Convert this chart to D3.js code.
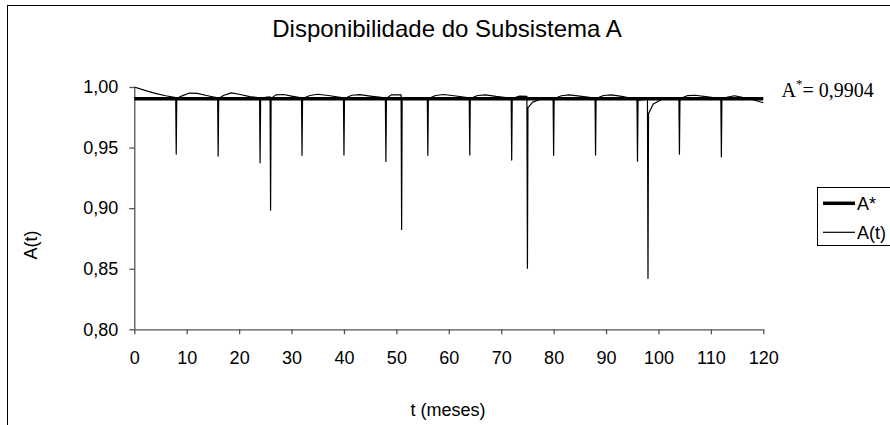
<!DOCTYPE html>
<html>
<head>
<meta charset="utf-8">
<script src="https://cdn.jsdelivr.net/npm/d3@7"></script>
<style>
  body { margin: 0; background: #fff; }
  svg { display: block; }
  text { font-family: "Liberation Sans", Arial, sans-serif; fill: #000; }
</style>
</head>
<body>
<div id="chart"></div>
<script>
(function () {
	// data
	var title = 'Disponibilidade do Subsistema A';
	var xLabel = 't (meses)';
	var yLabel = 'A(t)';
	var aStar = 0.9904;
	var xTicks = [0, 10, 20, 30, 40, 50, 60, 70, 80, 90, 100, 110, 120];
	var yTicks = [0.80, 0.85, 0.90, 0.95, 1.00];
	var legendNames = ['A*', 'A(t)'];

	// A(t): months and availability values
	var tMonths = [
		0, 2, 4, 6, 7.9,
		8, 8.1, 9, 10.5, 12, 14, 15.9,
		16, 16.1, 17, 18.5, 20, 22, 23.9,
		24, 24.1, 25, 25.9, 26, 26.1, 27, 28.5, 30, 31.9,
		32, 32.1, 33.5, 35, 37, 39.9,
		40, 40.1, 41.5, 43, 45, 47.9,
		48, 48.1, 49, 50.9, 51, 51.1, 52.5, 55.9,
		56, 56.1, 57.5, 59, 61, 63.9,
		64, 64.1, 65.5, 67, 69, 71.9,
		72, 72.1, 73.5, 74.9, 75, 75.1, 76, 77.5, 79.9,
		80, 80.1, 81.5, 83, 85, 87.9,
		88, 88.1, 89.5, 91, 93, 95.5, 95.9,
		96, 96.1, 97, 97.9, 98, 98.1, 99, 100.5, 102, 103.9,
		104, 104.1, 105.5, 107, 109, 111.9,
		112, 112.1, 113, 114.5, 116, 118, 120
	];
	var availability = [
		1.0000, 0.9972, 0.9948, 0.9928, 0.9912,
		0.9446, 0.9905, 0.9925, 0.9950, 0.9947, 0.9928, 0.9910,
		0.9430, 0.9905, 0.9930, 0.9952, 0.9940, 0.9920, 0.9910,
		0.9374, 0.9905, 0.9915, 0.9918, 0.8983, 0.9905, 0.9935, 0.9938, 0.9925, 0.9910,
		0.9436, 0.9905, 0.9930, 0.9940, 0.9930, 0.9910,
		0.9438, 0.9905, 0.9932, 0.9937, 0.9925, 0.9910,
		0.9386, 0.9905, 0.9935, 0.9935, 0.8824, 0.9905, 0.9912, 0.9908,
		0.9436, 0.9905, 0.9930, 0.9938, 0.9928, 0.9910,
		0.9438, 0.9905, 0.9930, 0.9935, 0.9922, 0.9908,
		0.9397, 0.9905, 0.9925, 0.9922, 0.8504, 0.9830, 0.9875, 0.9900, 0.9905,
		0.9436, 0.9905, 0.9928, 0.9935, 0.9925, 0.9908,
		0.9438, 0.9905, 0.9930, 0.9935, 0.9922, 0.9900, 0.9895,
		0.9388, 0.9890, 0.9895, 0.9900, 0.8421, 0.9780, 0.9860, 0.9895, 0.9905, 0.9905,
		0.9446, 0.9905, 0.9928, 0.9932, 0.9920, 0.9905,
		0.9424, 0.9900, 0.9915, 0.9928, 0.9915, 0.9895, 0.9870
	];

	var width = 890;
	var height = 425;
	var plot = { left: 134.3, right: 763.3, top: 87, bottom: 329.3 };

	var svg = d3.select('#chart').append('svg')
		.attr('width', width).attr('height', height);

	// outer chart border (only top and left visible)
	svg.append('rect')
		.attr('x', 7.5).attr('y', 5.5)
		.attr('width', width + 20).attr('height', height + 20)
		.attr('fill', 'none').attr('stroke', '#000').attr('stroke-width', 1);

	var x = d3.scaleLinear().domain([0, 120]).range([plot.left, plot.right]);
	var y = d3.scaleLinear().domain([0.80, 1.00]).range([plot.bottom, plot.top]);
	var fmt = d => d3.format('.2f')(d).replace('.', ',');

	// y axis
	var yAxis = svg.append('g')
		.attr('transform', 'translate(' + plot.left + ',0)')
		.call(d3.axisLeft(y).tickValues(yTicks).tickFormat(fmt).tickSize(5).tickSizeOuter(0).tickPadding(11));
	// x axis
	var xAxis = svg.append('g')
		.attr('transform', 'translate(0,' + plot.bottom + ')')
		.call(d3.axisBottom(x).tickValues(xTicks).tickSize(5).tickSizeOuter(0).tickPadding(17));

	[xAxis, yAxis].forEach(g => {
		g.select('.domain').attr('stroke', '#555').attr('stroke-width', 1.3);
		g.selectAll('.tick line').attr('stroke', '#555').attr('stroke-width', 1.3);
		g.selectAll('.tick text')
			.style('font-family', '"Liberation Sans", Arial, sans-serif')
			.style('font-size', '18px').attr('fill', '#000');
	});

	// A* reference line
	svg.append('line')
		.attr('x1', x(0)).attr('x2', x(120))
		.attr('y1', y(aStar)).attr('y2', y(aStar))
		.attr('stroke', '#000').attr('stroke-width', 3.5);

	// A(t) curve
	var points = tMonths.map((t, i) => [t, availability[i]]);
	var line = d3.line()
		.x(d => x(d[0]))
		.y(d => y(d[1]));
	svg.append('path')
		.datum(points)
		.attr('d', line)
		.attr('fill', 'none')
		.attr('stroke', '#000')
		.attr('stroke-width', 1.2)
		.attr('stroke-linejoin', 'round');

	// titles
	svg.append('text')
		.attr('x', 447).attr('y', 37)
		.attr('text-anchor', 'middle')
		.style('font-size', '24px')
		.text(title);
	svg.append('text')
		.attr('x', 448).attr('y', 416)
		.attr('text-anchor', 'middle')
		.style('font-size', '18px')
		.text(xLabel);
	svg.append('text')
		.attr('transform', 'translate(37,245) rotate(-90)')
		.attr('text-anchor', 'middle')
		.style('font-size', '18px')
		.text(yLabel);

	// A* value annotation
	var note = svg.append('text')
		.attr('x', 781.5).attr('y', 97.3)
		.style('font-family', '"Liberation Serif", "Times New Roman", serif')
		.style('font-size', '20px');
	note.append('tspan').text('A');
	note.append('tspan').attr('dy', -9).style('font-size', '13px').text('*');
	note.append('tspan').attr('dy', 9).text('= ' + fmt(aStar).replace(/,\d+$/, ',' + String(aStar).split('.')[1]));

	// legend
	var legend = svg.append('g');
	legend.append('rect')
		.attr('x', 817.5).attr('y', 187.5)
		.attr('width', 100).attr('height', 58)
		.attr('fill', '#fff').attr('stroke', '#000').attr('stroke-width', 1);
	legendNames.forEach((name, i) => {
		var ly = 203.3 + i * 29;
		legend.append('line')
			.attr('x1', 823).attr('x2', 855)
			.attr('y1', ly).attr('y2', ly)
			.attr('stroke', '#000')
			.attr('stroke-width', i === 0 ? 3.5 : 1.2);
		legend.append('text')
			.attr('x', 857).attr('y', ly + 6.5)
			.style('font-size', '18px')
			.text(name);
	});
})();
</script>
</body>
</html>
